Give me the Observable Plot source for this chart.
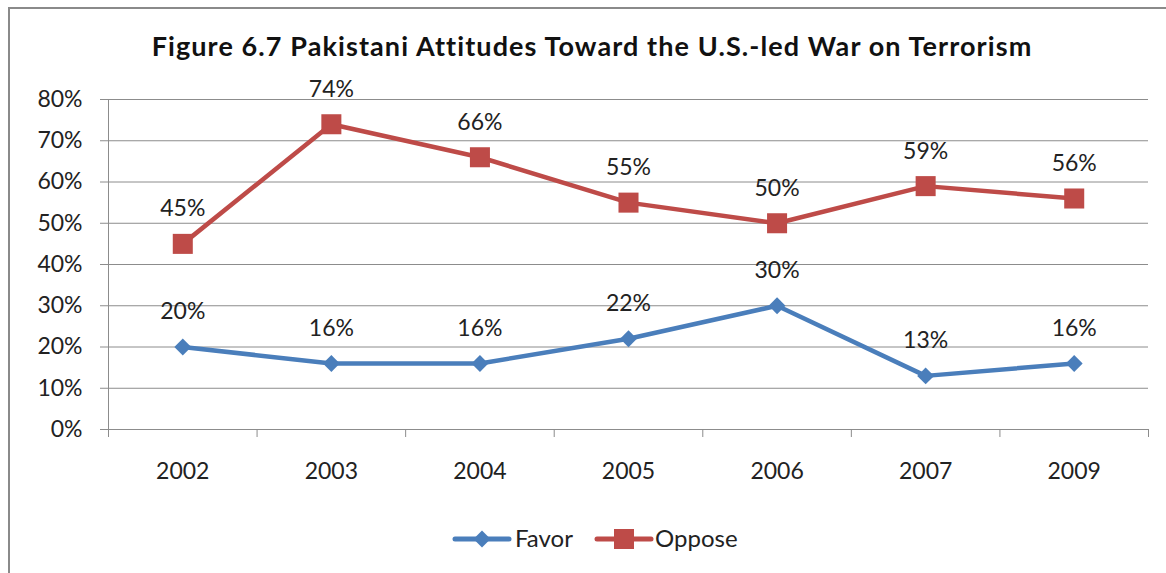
<!DOCTYPE html>
<html><head><meta charset="utf-8">
<script src="https://cdn.jsdelivr.net/npm/d3@7"></script>
<script src="https://cdn.jsdelivr.net/npm/@observablehq/plot@0.6"></script>
<style>
html,body{margin:0;padding:0;background:#fff;overflow:hidden;width:1166px;height:573px;}
#wrap{position:relative;width:1166px;height:573px;overflow:hidden;font-family:Lato,sans-serif;color:#222;}
#frame{position:absolute;left:8px;top:7px;width:1200px;height:600px;border-left:2px solid #8a8a8a;border-top:2px solid #8a8a8a;}
#title{position:absolute;left:92px;width:1000px;top:31px;line-height:30px;text-align:center;font-weight:bold;font-size:27px;letter-spacing:1.1px;color:#111;white-space:nowrap;}
#chart{position:absolute;left:0;top:0;}
.leg{position:absolute;top:525px;font-size:24px;line-height:26px;color:#222;white-space:nowrap;}
.legsym{position:absolute;top:527px;}
</style></head>
<body><div id="wrap"><div id="frame"></div><div id="chart"></div><div id="title"></div><div id="legend"></div></div>
<script>
const titleText = "Figure 6.7 Pakistani Attitudes Toward the U.S.-led War on Terrorism";
const years = ["2002","2003","2004","2005","2006","2007","2009"];
const favor = [20,16,16,22,30,13,16];
const oppose = [45,74,66,55,50,59,56];
const seriesNames = ["Favor","Oppose"];
const seriesColors = ["#4A7EBB","#BE4B48"];
const seriesSymbols = ["diamond2","square"];
const yTicks = [0,10,20,30,40,50,60,70,80];

const data = [];
years.forEach((yr,i)=>{
  data.push({series:"Favor", year:yr, pos:i+0.5, value:favor[i]});
  data.push({series:"Oppose", year:yr, pos:i+0.5, value:oppose[i]});
});
const gridColor = "#8c8c8c";
const fs = 23;

const chart = Plot.plot({
  width:1166, height:573,
  marginLeft:108, marginRight:18, marginTop:99, marginBottom:144,
  style:{fontFamily:"Lato, sans-serif", fontSize:fs+"px", color:"#222", background:"transparent", overflow:"visible"},
  x:{domain:[0, years.length], axis:null, label:null},
  y:{domain:[0,80], axis:null, label:null},
  color:{domain:seriesNames, range:seriesColors},
  symbol:{domain:seriesNames, range:seriesSymbols},
  marks:[
    Plot.gridY(yTicks, {stroke:gridColor, strokeOpacity:1, strokeWidth:1}),
    Plot.axisY(yTicks, {label:null, tickSize:8, tickPadding:18, stroke:gridColor, fill:"#222", fontSize:fs, tickFormat:d=>d+"%"}),
    Plot.ruleX([0], {y1:0, y2:80, stroke:gridColor}),
    Plot.axisX(d3.range(years.length+1), {label:null, tickSize:8, tickFormat:()=>"", stroke:gridColor}),
    Plot.axisX(years.map((y,i)=>i+0.5), {label:null, tickSize:0, tickPadding:33, fill:"#222", fontSize:fs, tickFormat:d=>years[Math.floor(d)]}),
    Plot.line(data, {x:"pos", y:"value", z:"series", stroke:"series", strokeWidth:4.5}),
    Plot.dot(data.filter(d=>d.series==="Favor"), {x:"pos", y:"value", symbol:"series", fill:"series", r:7.6}),
    Plot.dot(data.filter(d=>d.series==="Oppose"), {x:"pos", y:"value", symbol:"series", fill:"series", r:11.3}),
    Plot.text(data, {x:"pos", y:"value", text:d=>d.value+"%", dy:-35, fill:"#222", fontSize:fs})
  ]
});
document.getElementById("chart").appendChild(chart);
document.getElementById("title").textContent = titleText;

// legend
const leg = document.getElementById("legend");
const legPos = [{sym:452, txt:515}, {sym:594, txt:655}];
seriesNames.forEach((name,i)=>{
  const svg = d3.create("svg").attr("class","legsym").attr("width",60).attr("height",24)
    .style("left", legPos[i].sym+"px");
  svg.append("line").attr("x1",3).attr("x2",57).attr("y1",12).attr("y2",12)
    .attr("stroke",seriesColors[i]).attr("stroke-width",5).attr("stroke-linecap","round");
  if (seriesSymbols[i]==="diamond2") {
    svg.append("path").attr("d","M30,3.5L38.5,12L30,20.5L21.5,12Z").attr("fill",seriesColors[i]);
  } else {
    svg.append("rect").attr("x",20).attr("y",2).attr("width",20).attr("height",20).attr("fill",seriesColors[i]);
  }
  leg.appendChild(svg.node());
  const t = document.createElement("div");
  t.className = "leg"; t.style.left = legPos[i].txt+"px"; t.textContent = name;
  leg.appendChild(t);
});
</script>
</body></html>
